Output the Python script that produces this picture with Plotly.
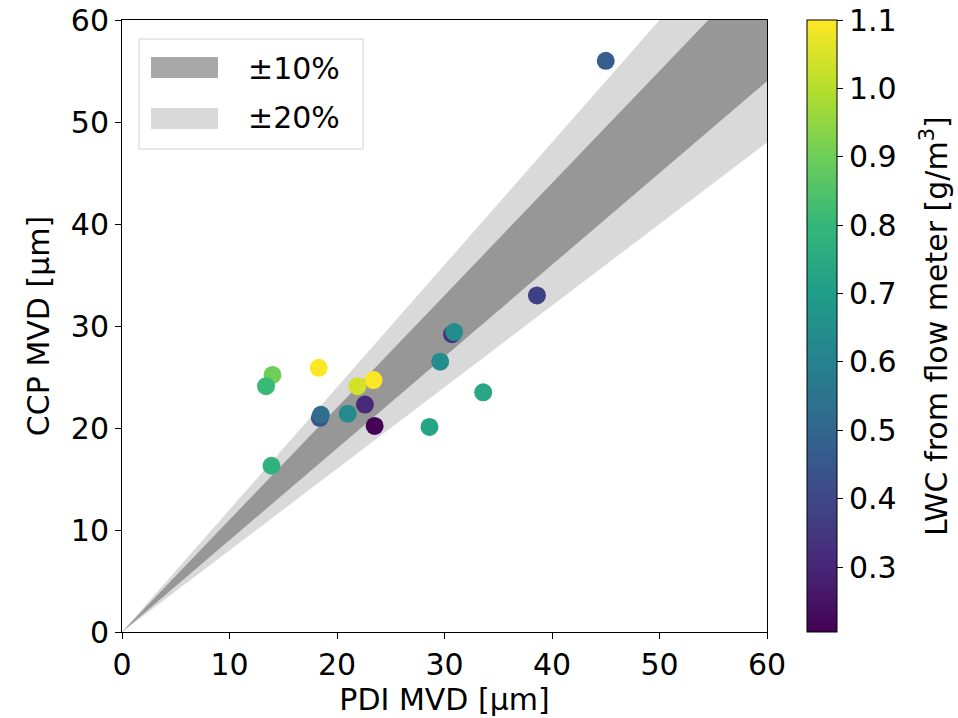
import plotly.graph_objects as go

# data
pdi_mvd = [45.0, 38.6, 30.7, 30.9, 29.6, 33.6, 28.6, 23.5, 22.6, 21.0, 18.4, 18.5, 23.4, 21.9, 18.3, 14.0, 13.4, 13.9]
ccp_mvd = [56.0, 33.0, 29.2, 29.4, 26.5, 23.5, 20.1, 20.2, 22.3, 21.4, 21.0, 21.3, 24.7, 24.1, 25.9, 25.2, 24.1, 16.3]
lwc = [0.47, 0.38, 0.33, 0.64, 0.64, 0.74, 0.73, 0.21, 0.31, 0.63, 0.43, 0.52, 1.10, 1.04, 1.10, 0.90, 0.81, 0.78]
band_inner = 0.10
band_outer = 0.20
x_end = 60

font = "DejaVu Sans"
fs = 30

def band(f):
    xs = [0, x_end, x_end, 0]
    ys = [0, x_end * (1 + f), x_end * (1 - f), 0]
    return xs, ys

fig = go.Figure()
bx, by = band(band_outer)
fig.add_trace(go.Scatter(x=bx, y=by, fill="toself", mode="none", fillcolor="#d9d9d9",
                         showlegend=False, hoverinfo="skip"))
bx, by = band(band_inner)
fig.add_trace(go.Scatter(x=bx, y=by, fill="toself", mode="none", fillcolor="#979797",
                         showlegend=False, hoverinfo="skip"))
fig.add_trace(go.Scatter(
    x=pdi_mvd, y=ccp_mvd, mode="markers",
    marker=dict(size=18, color=lwc, colorscale="Viridis", cmin=0.205, cmax=1.1,
                line=dict(width=0),
                colorbar=dict(
                    x=(807 - 122) / 645, xanchor="left", xref="paper",
                    y=0.5, yanchor="middle", len=1, lenmode="fraction",
                    xpad=0, ypad=0,
                    thickness=30, outlinewidth=1, outlinecolor="black",
                    ticks="outside", ticklen=6, tickcolor="black",
                    tickvals=[0.3, 0.4, 0.5, 0.6, 0.7, 0.8, 0.9, 1.0, 1.1],
                    ticktext=["0.3", "0.4", "0.5", "0.6", "0.7", "0.8", "0.9", "1.0", "1.1"],
                    tickfont=dict(family=font, size=fs, color="black"),
                )),
    showlegend=False,
))

axis_common = dict(range=[0, 60], showline=True, linecolor="black", linewidth=1, mirror=True,
                   ticks="outside", ticklen=6, tickcolor="black", showgrid=False, zeroline=False,
                   tickvals=[0, 10, 20, 30, 40, 50, 60],
                   tickfont=dict(family=font, size=fs, color="black"))
fig.update_xaxes(**axis_common, title=dict(text="PDI MVD [µm]", font=dict(family=font, size=fs, color="black"), standoff=4))
fig.update_yaxes(**axis_common, title=dict(text="CCP MVD [µm]", font=dict(family=font, size=fs, color="black"), standoff=12))

# manual legend (paper coordinates)
def px2x(p):
    return (p - 122) / 645
def py2y(p):
    return (632 - p) / 612

shapes = [
    dict(type="rect", xref="paper", yref="paper", x0=px2x(139), x1=px2x(363), y0=py2y(149), y1=py2y(39),
         line=dict(color="#d0d0d0", width=1), fillcolor="rgba(255,255,255,0.8)", layer="above"),
    dict(type="rect", xref="paper", yref="paper", x0=px2x(151), x1=px2x(218), y0=py2y(78), y1=py2y(57),
         line=dict(width=0), fillcolor="#a8a8a8", layer="above"),
    dict(type="rect", xref="paper", yref="paper", x0=px2x(151), x1=px2x(218), y0=py2y(129), y1=py2y(108),
         line=dict(width=0), fillcolor="#d9d9d9", layer="above"),
]
annotations = [
    dict(text="±10%", xref="paper", yref="paper", x=px2x(246), y=py2y(68), xanchor="left", yanchor="middle",
         showarrow=False, font=dict(family=font, size=fs, color="black")),
    dict(text="±20%", xref="paper", yref="paper", x=px2x(246), y=py2y(118), xanchor="left", yanchor="middle",
         showarrow=False, font=dict(family=font, size=fs, color="black")),
    dict(text="LWC from flow meter [g/m<sup>3</sup>]", xref="paper", yref="paper", x=px2x(934), y=py2y(326),
         xanchor="center", yanchor="middle", textangle=-90,
         showarrow=False, font=dict(family=font, size=fs, color="black")),
]

fig.update_layout(
    width=958, height=718,
    margin=dict(l=122, r=958 - 767, t=20, b=718 - 632, autoexpand=False),
    plot_bgcolor="white", paper_bgcolor="white",
    shapes=shapes, annotations=annotations,
)
fig.write_html("out.html")
